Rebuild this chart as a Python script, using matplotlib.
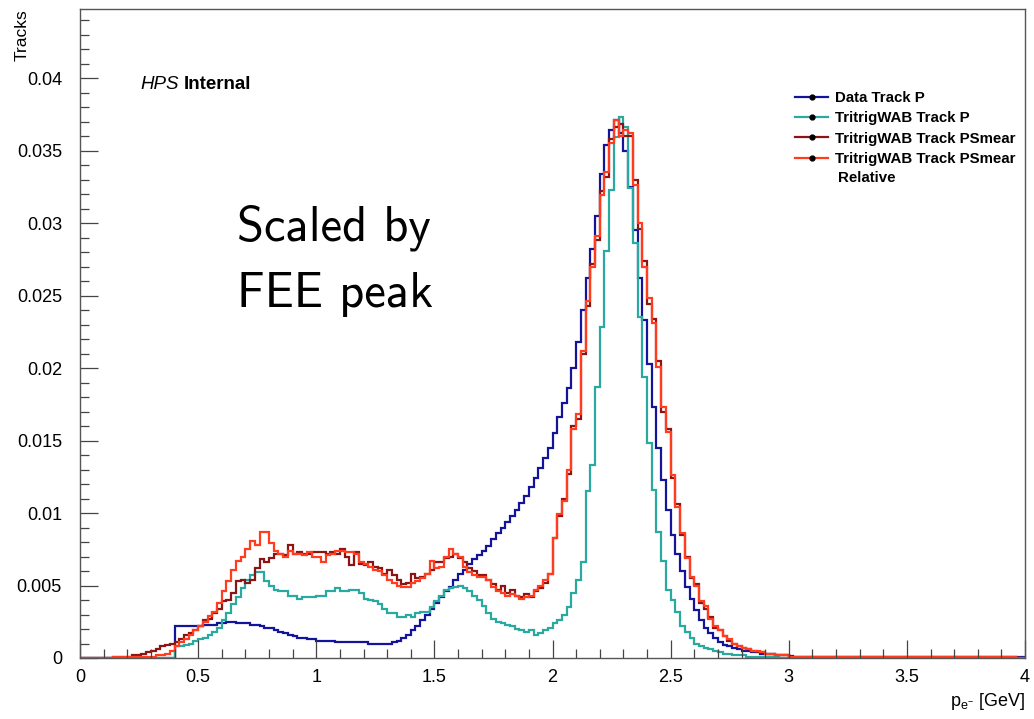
import numpy as np
import matplotlib
matplotlib.use("Agg")
import matplotlib.pyplot as plt
from matplotlib.lines import Line2D
from matplotlib.ticker import MultipleLocator, FormatStrFormatter

plt.rcParams['font.family'] = ['Liberation Sans', 'DejaVu Sans']

# binning: 200 bins of 0.02 GeV between 0 and 4
bin_width = 0.02
edges = np.round(np.arange(0, 4.0001, bin_width), 3)

labels = ["Data Track P", "TritrigWAB Track P", "TritrigWAB Track PSmear",
          "TritrigWAB Track PSmear"]
colors = ["#14149a", "#2aa9a0", "#8c1414", "#ff3c1e"]

# bin contents, starting at the given lower edge
data_start = 0.40
data_vals = [
    0.0022, 0.0022, 0.0022, 0.0022, 0.0022, 0.0022, 0.0023, 0.0023, 0.0023, 0.0024,
    0.0024, 0.0025, 0.0025, 0.0024, 0.0024, 0.0024, 0.0023, 0.0023, 0.0022, 0.0021,
    0.0021, 0.0019, 0.0018, 0.0017, 0.0016, 0.0015, 0.0014, 0.0014, 0.0013, 0.0013,
    0.0012, 0.0012, 0.0012, 0.0012, 0.0011, 0.0011, 0.0011, 0.0011, 0.0011, 0.0011,
    0.0011, 0.0010, 0.0010, 0.0010, 0.00095, 0.0010, 0.0011, 0.0012, 0.0014, 0.0016,
    0.0019, 0.0022, 0.0026, 0.0030, 0.0034, 0.0038, 0.0042, 0.0046, 0.0049, 0.0054,
    0.0058, 0.0061, 0.0065, 0.0068, 0.0071, 0.0074, 0.0077, 0.0082, 0.0086, 0.0090,
    0.0094, 0.0098, 0.0102, 0.0107, 0.0112, 0.0118, 0.0124, 0.0131, 0.0138, 0.0145,
    0.0155, 0.0166, 0.0176, 0.0186, 0.0200, 0.0218, 0.0240, 0.0262, 0.0282, 0.0305,
    0.0334, 0.0354, 0.0364, 0.0371, 0.0362, 0.0350, 0.0325, 0.0295, 0.0262, 0.0233,
    0.0203, 0.0173, 0.0145, 0.0123, 0.0102, 0.0085, 0.0072, 0.0060, 0.0049, 0.0041,
    0.0033, 0.0026, 0.0021, 0.0017, 0.0014, 0.0011, 0.0009, 0.0008, 0.0007, 0.0006,
    0.0005, 0.0005, 0.0004, 0.0004, 0.0003, 0.0003, 0.0003, 0.0002, 0.0002, 0.0002,
    0.00015, 0.0001, 0.0001, 0.0001, 0.0001, 0.0001, 0.0001, 0.0001, 0.0001, 0.0001,
    0.0001, 0.00005, 0.00005, 0.00005, 0.00005, 0.00005, 0.00005, 0.00005, 0.00005,
    0.00005, 0.00005, 0.00005, 0.00005, 0.00005, 0.00005, 0.00005, 0.00005, 0.00005,
    0.00005, 0.00005, 0.00005, 0.00005, 0.00005, 0.00005, 0.00005, 0.00005, 0.00005,
    0.00005, 0.00005, 0.00005, 0.00005, 0.00005, 0.00005, 0.00005, 0.00005, 0.00005,
    0.00005, 0.00005, 0.00005, 0.00005,
]

mc_start = 0.40
mc_vals = [
    0.0008, 0.0008, 0.0009, 0.0010, 0.0012, 0.0013, 0.0014, 0.0016, 0.0018, 0.0021,
    0.0026, 0.0031, 0.0037, 0.0042, 0.0048, 0.0054, 0.0057, 0.0059, 0.0059, 0.0053,
    0.0050, 0.0047, 0.0046, 0.0046, 0.0043, 0.0043, 0.0041, 0.0042, 0.0042, 0.0042,
    0.0043, 0.0043, 0.0046, 0.0046, 0.0048, 0.0046, 0.0046, 0.0047, 0.0047, 0.0045,
    0.0041, 0.0040, 0.0039, 0.0037, 0.0034, 0.0031, 0.0031, 0.0028, 0.0028, 0.0030,
    0.0028, 0.0031, 0.0032, 0.0032, 0.0035, 0.0039, 0.0043, 0.0047, 0.0048, 0.0049,
    0.0050, 0.0048, 0.0046, 0.0043, 0.0040, 0.0036, 0.0031, 0.0027, 0.0025, 0.0024,
    0.0023, 0.0022, 0.0020, 0.0019, 0.0018, 0.0019, 0.0016, 0.0017, 0.0019, 0.0021,
    0.0024, 0.0026, 0.0030, 0.0035, 0.0045, 0.0054, 0.0066, 0.0115, 0.0133, 0.0187,
    0.0228, 0.0281, 0.0323, 0.0359, 0.0373, 0.0366, 0.0324, 0.0286, 0.0235, 0.0194,
    0.0148, 0.0116, 0.0087, 0.0067, 0.0047, 0.0040, 0.0032, 0.0022, 0.0018, 0.0014,
    0.0010, 0.0008, 0.0007, 0.0006, 0.0005, 0.0004, 0.0003, 0.0003, 0.0002, 0.0002,
    0.0002, 0.0001, 0.0001, 0.0001, 0.0001, 0.0001, 0.00005, 0.00005,
]

smear_start = 0.14
smear_vals = [
    0.0001, 0.0001, 0.0001, 0.0001, 0.0002, 0.0002, 0.0003, 0.0004, 0.0005, 0.0006,
    0.0008, 0.0009, 0.0010, 0.0011, 0.0013, 0.0016, 0.0017, 0.0019, 0.0022, 0.0026,
    0.0027, 0.0031, 0.0034, 0.0039, 0.0040, 0.0045, 0.0053, 0.0054, 0.0052, 0.0054,
    0.0062, 0.0068, 0.0066, 0.0069, 0.0072, 0.0072, 0.0071, 0.0078, 0.0072, 0.0073,
    0.0072, 0.0072, 0.0073, 0.0073, 0.0073, 0.0072, 0.0073, 0.0072, 0.0075, 0.0070,
    0.0064, 0.0073, 0.0065, 0.0064, 0.0066, 0.0063, 0.0062, 0.0058, 0.0061, 0.0057,
    0.0054, 0.0051, 0.0052, 0.0058, 0.0055, 0.0056, 0.0058, 0.0061, 0.0066, 0.0066,
    0.0069, 0.0070, 0.0072, 0.0069, 0.0066, 0.0062, 0.0060, 0.0057, 0.0057, 0.0054,
    0.0051, 0.0047, 0.0050, 0.0045, 0.0047, 0.0043, 0.0042, 0.0044, 0.0042, 0.0046,
    0.0048, 0.0052, 0.0058, 0.0083, 0.0098, 0.0110, 0.0127, 0.0160, 0.0165, 0.0210,
    0.0243, 0.0272, 0.0288, 0.0322, 0.0332, 0.0358, 0.0366, 0.0368, 0.0360, 0.0360,
    0.0330, 0.0296, 0.0274, 0.0244, 0.0234, 0.0205, 0.0170, 0.0158, 0.0124, 0.0106,
    0.0085, 0.0070, 0.0055, 0.0051, 0.0038, 0.0034, 0.0028, 0.0021, 0.0019, 0.0015,
    0.0012, 0.0010, 0.0008, 0.0007, 0.0006, 0.0005, 0.0004, 0.0004, 0.0003, 0.0003,
    0.0002, 0.0002, 0.0002, 0.0001, 0.0001, 0.0001, 0.0001, 0.0001, 0.0001, 0.0001,
    0.0001, 0.0001, 0.0001, 0.00005, 0.00005, 0.00005, 0.00005, 0.00005, 0.00005,
    0.00005, 0.00005, 0.00005, 0.00005, 0.00005, 0.00005, 0.00005, 0.00005, 0.00005,
    0.00005, 0.00005, 0.00005, 0.00005, 0.00005, 0.00005, 0.00005, 0.00005, 0.00005,
    0.00005, 0.00005, 0.00005, 0.00005, 0.00005, 0.00005, 0.00005, 0.00005, 0.00005,
    0.00005, 0.00005, 0.00005, 0.00005, 0.00005,
]

rel_start = 0.14
rel_vals = [
    0.00005, 0.00005, 0.00005, 0.00005, 0.0001, 0.0001, 0.0001, 0.0001, 0.0001, 0.0002,
    0.0002, 0.0003, 0.0005, 0.0008, 0.0011, 0.0013, 0.0016, 0.0019, 0.0022, 0.0025,
    0.0029, 0.0032, 0.0038, 0.0046, 0.0053, 0.0061, 0.0067, 0.0070, 0.0075, 0.0081,
    0.0078, 0.0087, 0.0087, 0.0079, 0.0074, 0.0072, 0.0070, 0.0074, 0.0072, 0.0072,
    0.0071, 0.0073, 0.0070, 0.0070, 0.0066, 0.0071, 0.0072, 0.0074, 0.0074, 0.0073,
    0.0073, 0.0072, 0.0066, 0.0065, 0.0063, 0.0061, 0.0060, 0.0057, 0.0054, 0.0052,
    0.0050, 0.0049, 0.0049, 0.0052, 0.0053, 0.0055, 0.0058, 0.0067, 0.0062, 0.0063,
    0.0070, 0.0075, 0.0072, 0.0070, 0.0063, 0.0059, 0.0057, 0.0056, 0.0056, 0.0054,
    0.0049, 0.0046, 0.0045, 0.0043, 0.0044, 0.0043, 0.0041, 0.0042, 0.0043, 0.0047,
    0.0050, 0.0054, 0.0058, 0.0083, 0.0099, 0.0108, 0.0130, 0.0158, 0.0168, 0.0212,
    0.0246, 0.0270, 0.0291, 0.0319, 0.0335, 0.0355, 0.0371, 0.0360, 0.0364, 0.0362,
    0.0326, 0.0300, 0.0270, 0.0248, 0.0231, 0.0201, 0.0173, 0.0156, 0.0126, 0.0104,
    0.0086, 0.0069, 0.0056, 0.0050, 0.0039, 0.0036, 0.0027, 0.0022, 0.0019, 0.0015,
    0.0013, 0.0010, 0.0008, 0.0007, 0.0006, 0.0005, 0.0005, 0.0004, 0.0003, 0.0003,
    0.0002, 0.0002, 0.0002, 0.0001, 0.0001, 0.0001, 0.0001, 0.0001, 0.0001, 0.0001,
    0.0001, 0.0001, 0.0001, 0.00005, 0.00005, 0.00005, 0.00005, 0.00005, 0.00005,
    0.00005, 0.00005, 0.00005, 0.00005, 0.00005, 0.00005, 0.00005, 0.00005, 0.00005,
    0.00005, 0.00005, 0.00005, 0.00005, 0.00005, 0.00005, 0.00005, 0.00005, 0.00005,
    0.00005, 0.00005, 0.00005, 0.00005, 0.00005, 0.00005, 0.00005, 0.00005, 0.00005,
    0.00005, 0.00005, 0.00005, 0.00005, 0.00005,
]


def fill_hist(start, vals):
    h = np.zeros(len(edges) - 1)
    i0 = int(round(start / bin_width))
    n = min(len(vals), len(h) - i0)
    h[i0:i0 + n] = vals[:n]
    return h


hists = [fill_hist(data_start, data_vals), fill_hist(mc_start, mc_vals),
         fill_hist(smear_start, smear_vals), fill_hist(rel_start, rel_vals)]

W, H = 1034, 719
fig = plt.figure(figsize=(W / 100, H / 100), dpi=100)
ax = fig.add_axes([80 / W, 61 / H, 945 / W, 649 / H])

for h, c in zip(hists, colors):
    ax.stairs(h, edges, color=c, lw=1.6)

ax.set_xlim(0, 4)
ax.set_ylim(0, 0.04476)

ax.xaxis.set_major_locator(MultipleLocator(0.5))
ax.xaxis.set_minor_locator(MultipleLocator(0.1))
ax.yaxis.set_major_locator(MultipleLocator(0.005))
ax.yaxis.set_minor_locator(MultipleLocator(0.001))
ax.xaxis.set_major_formatter(FormatStrFormatter('%g'))
ax.yaxis.set_major_formatter(FormatStrFormatter('%g'))

ax.tick_params(which='both', direction='in', top=False, right=False,
               color='#444444', width=0.9, labelsize=13)
ax.tick_params(which='major', length=13)
ax.tick_params(which='minor', length=6.5)
ax.tick_params(axis='y', pad=13)
ax.tick_params(axis='x', pad=8)
for sp in ax.spines.values():
    sp.set_color('#555555')
    sp.set_linewidth(1.0)

# axis titles, ROOT style (at the ends of the axes)
fig.text(22 / W, 1 - 9 / H, "Tracks", rotation=90, ha='center', va='top',
         fontsize=12.5)
fig.text(1025 / W, 1 - 706 / H, r"p$_{\mathregular{e^{-}}}$ [GeV]", ha='right',
         va='baseline', fontsize=13)

# HPS label
t_hps = fig.text(140 / W, 1 - 89 / H, "HPS", style='italic', fontsize=13.5,
                 va='baseline')
ax.annotate("Internal", xy=(1, 0), xycoords=t_hps, xytext=(4, 0),
            textcoords='offset points', fontsize=13.5, fontweight='bold',
            va='bottom')

# big annotation
fig.text(237 / W, 1 - 240 / H, "Scaled by", family='cmss10', fontsize=35,
         va='baseline')
fig.text(237 / W, 1 - 307 / H, "FEE peak", family='cmss10', fontsize=35,
         va='baseline')

# legend
handles = [Line2D([], [], color=c, lw=1.6, marker='o', markersize=3.5,
                  markerfacecolor='black', markeredgecolor='black')
           for c in colors]
fig.legend(handles, labels, loc='upper left',
           bbox_to_anchor=(795 / W, 1 - 91 / H), frameon=False,
           prop={'size': 10.8, 'weight': 'bold'}, handlelength=2.2,
           handletextpad=0.45, labelspacing=0.42, borderpad=0, borderaxespad=0,
           numpoints=1)
fig.text(838 / W, 1 - 178 / H, "Relative", fontsize=10.8, fontweight='bold',
         va='center')

fig.savefig("out.png", dpi=100)
